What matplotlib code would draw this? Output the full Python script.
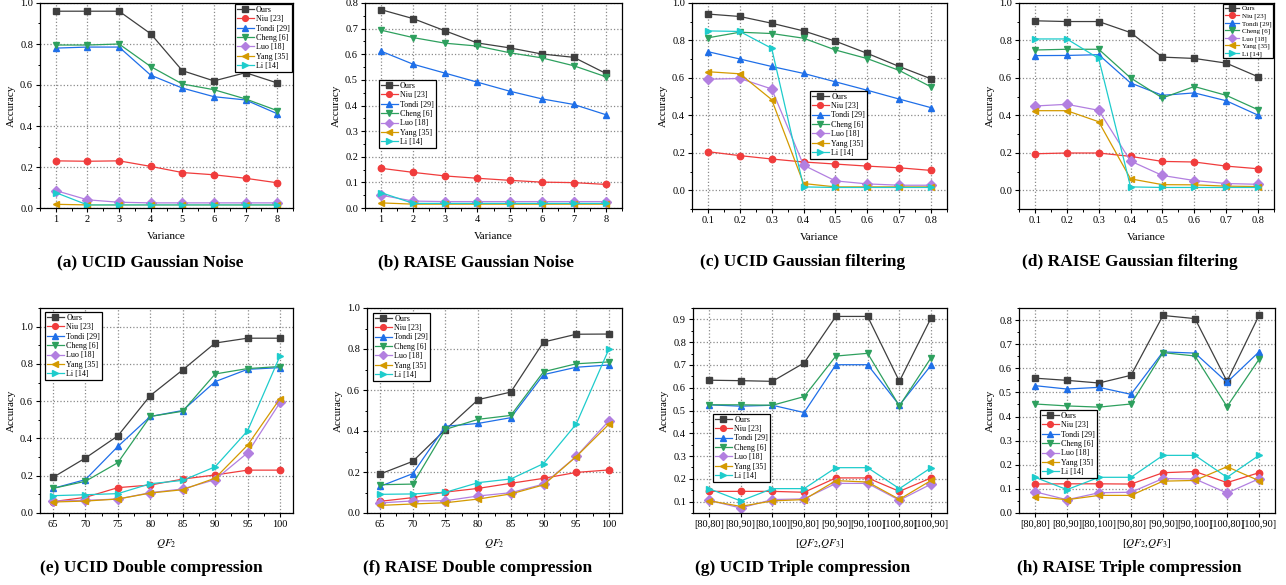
import numpy as np
import matplotlib
matplotlib.use('Agg')
import matplotlib.pyplot as plt
from matplotlib.ticker import MultipleLocator, AutoMinorLocator, FormatStrFormatter

plt.rcParams['font.family'] = ['Liberation Serif', 'DejaVu Serif']
plt.rcParams['mathtext.fontset'] = 'stix'

metodos = ['Ours', 'Niu [23]', 'Tondi [29]', 'Cheng [6]', 'Luo [18]', 'Yang [35]', 'Li [14]']
colores = ['#3f3f3f', '#f03c3c', '#1f6fe8', '#2ea05e', '#b27fe0', '#d49a00', '#1ecccc']
marcadores = ['s', 'o', '^', 'v', 'D', '<', '>']

var_ruido = [1, 2, 3, 4, 5, 6, 7, 8]
var_filtro = [0.1, 0.2, 0.3, 0.4, 0.5, 0.6, 0.7, 0.8]
qf2 = [65, 70, 75, 80, 85, 90, 95, 100]
qf23 = ['[80,80]', '[80,90]', '[80,100]', '[90,80]', '[90,90]', '[90,100]', '[100,80]', '[100,90]']

# (a) UCID ruido gaussiano
ucid_ruido = [
    [0.96, 0.96, 0.96, 0.85, 0.67, 0.62, 0.66, 0.61],
    [0.23, 0.228, 0.23, 0.203, 0.173, 0.162, 0.145, 0.123],
    [0.78, 0.785, 0.785, 0.648, 0.585, 0.543, 0.527, 0.46],
    [0.795, 0.795, 0.80, 0.69, 0.605, 0.577, 0.532, 0.475],
    [0.085, 0.04, 0.028, 0.025, 0.025, 0.025, 0.025, 0.025],
    [0.018, 0.015, 0.015, 0.015, 0.015, 0.015, 0.015, 0.015],
    [0.075, 0.015, 0.015, 0.015, 0.015, 0.015, 0.015, 0.015],
]
# (b) RAISE ruido gaussiano
raise_ruido = [
    [0.774, 0.739, 0.691, 0.644, 0.625, 0.601, 0.588, 0.525],
    [0.155, 0.139, 0.125, 0.116, 0.108, 0.101, 0.099, 0.092],
    [0.612, 0.561, 0.526, 0.491, 0.456, 0.426, 0.404, 0.364],
    [0.694, 0.665, 0.643, 0.632, 0.606, 0.586, 0.555, 0.512],
    [0.05, 0.027, 0.025, 0.025, 0.025, 0.025, 0.025, 0.025],
    [0.02, 0.015, 0.015, 0.015, 0.015, 0.015, 0.015, 0.015],
    [0.06, 0.018, 0.018, 0.018, 0.018, 0.018, 0.018, 0.018],
]
# (c) UCID filtrado gaussiano
ucid_filtro = [
    [0.941, 0.928, 0.892, 0.851, 0.796, 0.731, 0.661, 0.595],
    [0.206, 0.185, 0.167, 0.151, 0.14, 0.129, 0.12, 0.106],
    [0.74, 0.701, 0.661, 0.624, 0.579, 0.534, 0.487, 0.441],
    [0.814, 0.844, 0.837, 0.812, 0.749, 0.703, 0.64, 0.552],
    [0.593, 0.597, 0.541, 0.134, 0.05, 0.034, 0.027, 0.027],
    [0.633, 0.622, 0.484, 0.036, 0.018, 0.018, 0.018, 0.018],
    [0.851, 0.848, 0.758, 0.018, 0.015, 0.015, 0.015, 0.015],
]
# (d) RAISE filtrado gaussiano
raise_filtro = [
    [0.905, 0.901, 0.901, 0.842, 0.711, 0.704, 0.679, 0.606],
    [0.195, 0.199, 0.199, 0.181, 0.154, 0.151, 0.129, 0.115],
    [0.719, 0.72, 0.724, 0.573, 0.507, 0.52, 0.478, 0.401],
    [0.749, 0.753, 0.753, 0.60, 0.493, 0.554, 0.507, 0.43],
    [0.45, 0.459, 0.427, 0.156, 0.079, 0.052, 0.036, 0.032],
    [0.425, 0.425, 0.366, 0.061, 0.03, 0.029, 0.022, 0.02],
    [0.808, 0.808, 0.704, 0.018, 0.015, 0.015, 0.015, 0.015],
]
# (e) UCID doble compresion
ucid_doble = [
    [0.191, 0.295, 0.414, 0.63, 0.768, 0.912, 0.938, 0.938],
    [0.061, 0.084, 0.136, 0.15, 0.182, 0.204, 0.23, 0.23],
    [0.132, 0.179, 0.357, 0.518, 0.55, 0.705, 0.771, 0.78],
    [0.132, 0.17, 0.27, 0.518, 0.546, 0.746, 0.775, 0.786],
    [0.064, 0.068, 0.075, 0.109, 0.129, 0.179, 0.323, 0.593],
    [0.059, 0.064, 0.075, 0.107, 0.125, 0.187, 0.364, 0.614],
    [0.093, 0.098, 0.104, 0.157, 0.175, 0.248, 0.441, 0.843],
]
# (f) RAISE doble compresion
raise_doble = [
    [0.19, 0.252, 0.407, 0.553, 0.59, 0.834, 0.872, 0.873],
    [0.057, 0.075, 0.102, 0.12, 0.145, 0.169, 0.198, 0.21],
    [0.13, 0.192, 0.423, 0.437, 0.465, 0.675, 0.711, 0.722],
    [0.138, 0.141, 0.408, 0.457, 0.476, 0.689, 0.728, 0.737],
    [0.049, 0.059, 0.06, 0.083, 0.099, 0.141, 0.276, 0.45],
    [0.037, 0.044, 0.05, 0.068, 0.093, 0.137, 0.275, 0.433],
    [0.091, 0.093, 0.101, 0.148, 0.166, 0.241, 0.434, 0.80],
]
# (g) UCID triple compresion
ucid_triple = [
    [0.633, 0.631, 0.628, 0.709, 0.913, 0.913, 0.628, 0.907],
    [0.145, 0.145, 0.145, 0.141, 0.204, 0.204, 0.145, 0.204],
    [0.525, 0.519, 0.523, 0.491, 0.701, 0.701, 0.523, 0.699],
    [0.525, 0.525, 0.523, 0.561, 0.739, 0.751, 0.52, 0.732],
    [0.106, 0.072, 0.109, 0.112, 0.18, 0.18, 0.106, 0.177],
    [0.104, 0.079, 0.103, 0.109, 0.192, 0.186, 0.11, 0.193],
    [0.157, 0.103, 0.157, 0.157, 0.249, 0.249, 0.157, 0.249],
]
# (h) RAISE triple compresion
raise_triple = [
    [0.559, 0.55, 0.539, 0.571, 0.819, 0.806, 0.546, 0.819],
    [0.12, 0.121, 0.121, 0.12, 0.167, 0.172, 0.126, 0.167],
    [0.528, 0.514, 0.521, 0.492, 0.668, 0.663, 0.542, 0.668],
    [0.452, 0.444, 0.439, 0.452, 0.665, 0.651, 0.441, 0.637],
    [0.088, 0.055, 0.084, 0.086, 0.143, 0.141, 0.083, 0.142],
    [0.068, 0.055, 0.073, 0.073, 0.132, 0.135, 0.192, 0.134],
    [0.148, 0.097, 0.148, 0.148, 0.239, 0.239, 0.148, 0.239],
]

W, H = 1286, 585
fig = plt.figure(figsize=(W / 100, H / 100), dpi=100)


def caja(x0, x1, y0, y1):
    # pixeles de la imagen -> fracciones de la figura
    return [x0 / W, 1 - y1 / H, (x1 - x0) / W, (y1 - y0) / H]


def panel(pos, x, datos, xlim, ylim, ypaso, xlabel, titulo, tx, ty,
          leg_loc, leg_anchor, leg_fs=5.8, xminor=True, xticks=None):
    ax = fig.add_axes(caja(*pos))
    xs = np.arange(len(x)) if xticks is not None else x
    for serie, nombre, c, m in zip(datos, metodos, colores, marcadores):
        ax.plot(xs, serie, color=c, marker=m, markersize=4.6, linewidth=0.9,
                label=nombre)
    ax.set_xlim(*xlim)
    ax.set_ylim(*ylim)
    ax.yaxis.set_major_locator(MultipleLocator(ypaso))
    ax.yaxis.set_minor_locator(AutoMinorLocator(2))
    ax.yaxis.set_major_formatter(FormatStrFormatter('%.1f'))
    if xticks is not None:
        ax.set_xticks(xs)
        ax.set_xticklabels(xticks)
    else:
        ax.set_xticks(x)
        if xminor:
            ax.xaxis.set_minor_locator(AutoMinorLocator(2))
    ax.grid(True, which='major', linestyle=':', color='#8a8a8a', linewidth=0.9)
    ax.tick_params(labelsize=7.5, length=3, width=0.8, pad=2)
    ax.tick_params(which='minor', length=1.8, width=0.7)
    for s in ax.spines.values():
        s.set_linewidth(0.9)
    ax.set_xlabel(xlabel, fontsize=8, labelpad=6)
    ax.set_ylabel('Accuracy', fontsize=8, labelpad=3)
    leg = ax.legend(loc=leg_loc, bbox_to_anchor=leg_anchor, fontsize=leg_fs,
                    frameon=True, fancybox=False, edgecolor='black',
                    labelspacing=0.17, handlelength=2.1, handletextpad=0.3,
                    borderpad=0.22, borderaxespad=0, framealpha=1,
                    markerscale=0.9)
    leg.get_frame().set_linewidth(0.9)
    fig.text(tx / W, 1 - ty / H, titulo, fontsize=12.5, fontweight='bold',
             ha='center', va='center')
    return ax


panel((40, 293, 3, 208), var_ruido, ucid_ruido, (0.5, 8.5), (0, 1.0), 0.2,
      'Variance', '(a) UCID Gaussian Noise', 150, 262,
      'upper right', (0.995, 0.995))
panel((365, 622, 3, 208), var_ruido, raise_ruido, (0.5, 8.5), (0, 0.8), 0.1,
      'Variance', '(b) RAISE Gaussian Noise', 476, 262,
      'upper left', (0.054, 0.624))
panel((692, 947, 3, 209), var_filtro, ucid_filtro, (0.05, 0.85), (-0.1, 1.0), 0.2,
      'Variance', '(c) UCID Gaussian filtering', 803, 262,
      'upper left', (0.463, 0.573))
panel((1019, 1274, 3, 209), var_filtro, raise_filtro, (0.05, 0.85), (-0.1, 1.0), 0.2,
      'Variance', '(d) RAISE Gaussian filtering', 1130, 262,
      'upper right', (0.995, 0.995), leg_fs=5.0)
panel((40, 293, 308, 513), qf2, ucid_doble, (63, 102), (0, 1.1), 0.2,
      r'$QF_2$', '(e) UCID Double compression', 151, 568,
      'upper left', (0.02, 0.98))
panel((367, 622, 308, 513), qf2, raise_doble, (63, 102), (0, 1.0), 0.2,
      r'$QF_2$', '(f) RAISE Double compression', 478, 568,
      'upper left', (0.024, 0.976))
panel((693, 947, 308, 513), qf23, ucid_triple, (-0.5, 7.5), (0.05, 0.95), 0.1,
      r'[$QF_2$,$QF_3$]', '(g) UCID Triple compression', 803, 568,
      'upper left', (0.079, 0.483), xticks=qf23)
panel((1019, 1275, 308, 513), qf23, raise_triple, (-0.5, 7.5), (0, 0.85), 0.1,
      r'[$QF_2$,$QF_3$]', '(h) RAISE Triple compression', 1129, 568,
      'upper left', (0.082, 0.502), xticks=qf23)

fig.savefig('out.png', dpi=100)
